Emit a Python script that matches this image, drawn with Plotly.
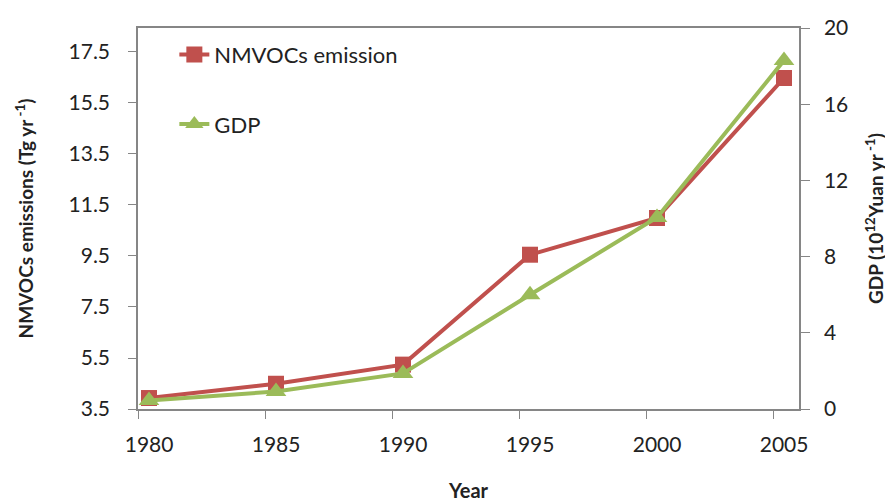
"""
NMVOCs emission vs GDP, 1980-2005 (dual axis line chart)
"""

import plotly.graph_objects as go

years = [1980, 1985, 1990, 1995, 2000, 2005]
nmvocs = [3.93, 4.49, 5.24, 9.55, 10.99, 16.48]   # Tg yr-1
gdp = [0.45, 0.92, 1.87, 6.0, 10.05, 18.3]        # 10^12 Yuan yr-1

left_ticks = [3.5, 5.5, 7.5, 9.5, 11.5, 13.5, 15.5, 17.5]
right_ticks = [0, 4, 8, 12, 16, 20]

RED = '#C0504D'
GREEN = '#9BBB59'
AXIS = '#868686'
FONT = 'Lato, Liberation Sans, sans-serif'

fig = go.Figure()

fig.add_trace(go.Scatter(
    x=years, y=nmvocs,
    mode='lines+markers',
    name='NMVOCs emission',
    legendgroup='a',
    line=dict(color=RED, width=4),
    marker=dict(symbol='square', size=16, color=RED),
    yaxis='y'
))

fig.add_trace(go.Scatter(
    x=years, y=gdp,
    mode='lines+markers',
    name='GDP',
    legendgroup='b',
    line=dict(color=GREEN, width=4),
    marker=dict(symbol='triangle-up', size=18, color=GREEN),
    yaxis='y2'
))

# tick marks sit a little left of each year, labels centred on the points
tick_offset = 0.43

fig.update_layout(
    width=893, height=502,
    margin=dict(l=130, r=102, t=20, b=101, autoexpand=False),
    plot_bgcolor='white',
    paper_bgcolor='white',
    font=dict(family=FONT, size=19, color='#222222'),
    showlegend=True,
    legend=dict(
        x=0.055, y=0.985, xanchor='left', yanchor='top',
        font=dict(size=22, color='#222222'),
        tracegroupgap=38,
        traceorder='grouped',
        bgcolor='rgba(0,0,0,0)'
    ),
    xaxis=dict(
        range=[1979.567, 2005.59],
        tickvals=[y - tick_offset for y in years],
        ticktext=[str(y) for y in years],
        ticklabelshift=11,
        ticks='outside', ticklen=8, tickcolor=AXIS,
        ticklabelstandoff=8,
        showline=True, linecolor=AXIS, linewidth=1.5, mirror=True,
        showgrid=False, zeroline=False, automargin=False,
        tickfont=dict(size=21),
        title=dict(text='<b>Year</b>', font=dict(size=20), standoff=29)
    ),
    yaxis=dict(
        range=[3.5, 18.44],
        tickvals=left_ticks,
        ticktext=[f'{v:.1f}' for v in left_ticks],
        ticks='outside', ticklen=8, tickcolor=AXIS,
        ticklabelstandoff=14,
        showline=True, linecolor=AXIS, linewidth=1.5,
        showgrid=False, zeroline=False, automargin=False,
        tickfont=dict(size=21),
        title=dict(text='<b>NMVOCs emissions (Tg yr<sup> -1</sup>)</b>',
                   font=dict(size=19), standoff=30)
    ),
    yaxis2=dict(
        overlaying='y', side='right',
        range=[0, 20],
        tickvals=right_ticks,
        ticks='outside', ticklen=9, tickcolor=AXIS,
        ticklabelstandoff=10,
        showline=True, linecolor=AXIS, linewidth=1.5,
        showgrid=False, zeroline=False, automargin=False,
        tickfont=dict(size=21),
        title=dict(text='<b>GDP (10<sup>12</sup>Yuan yr<sup> -1</sup>)</b>',
                   font=dict(size=19), standoff=22)
    )
)

fig.write_html("out.html")
